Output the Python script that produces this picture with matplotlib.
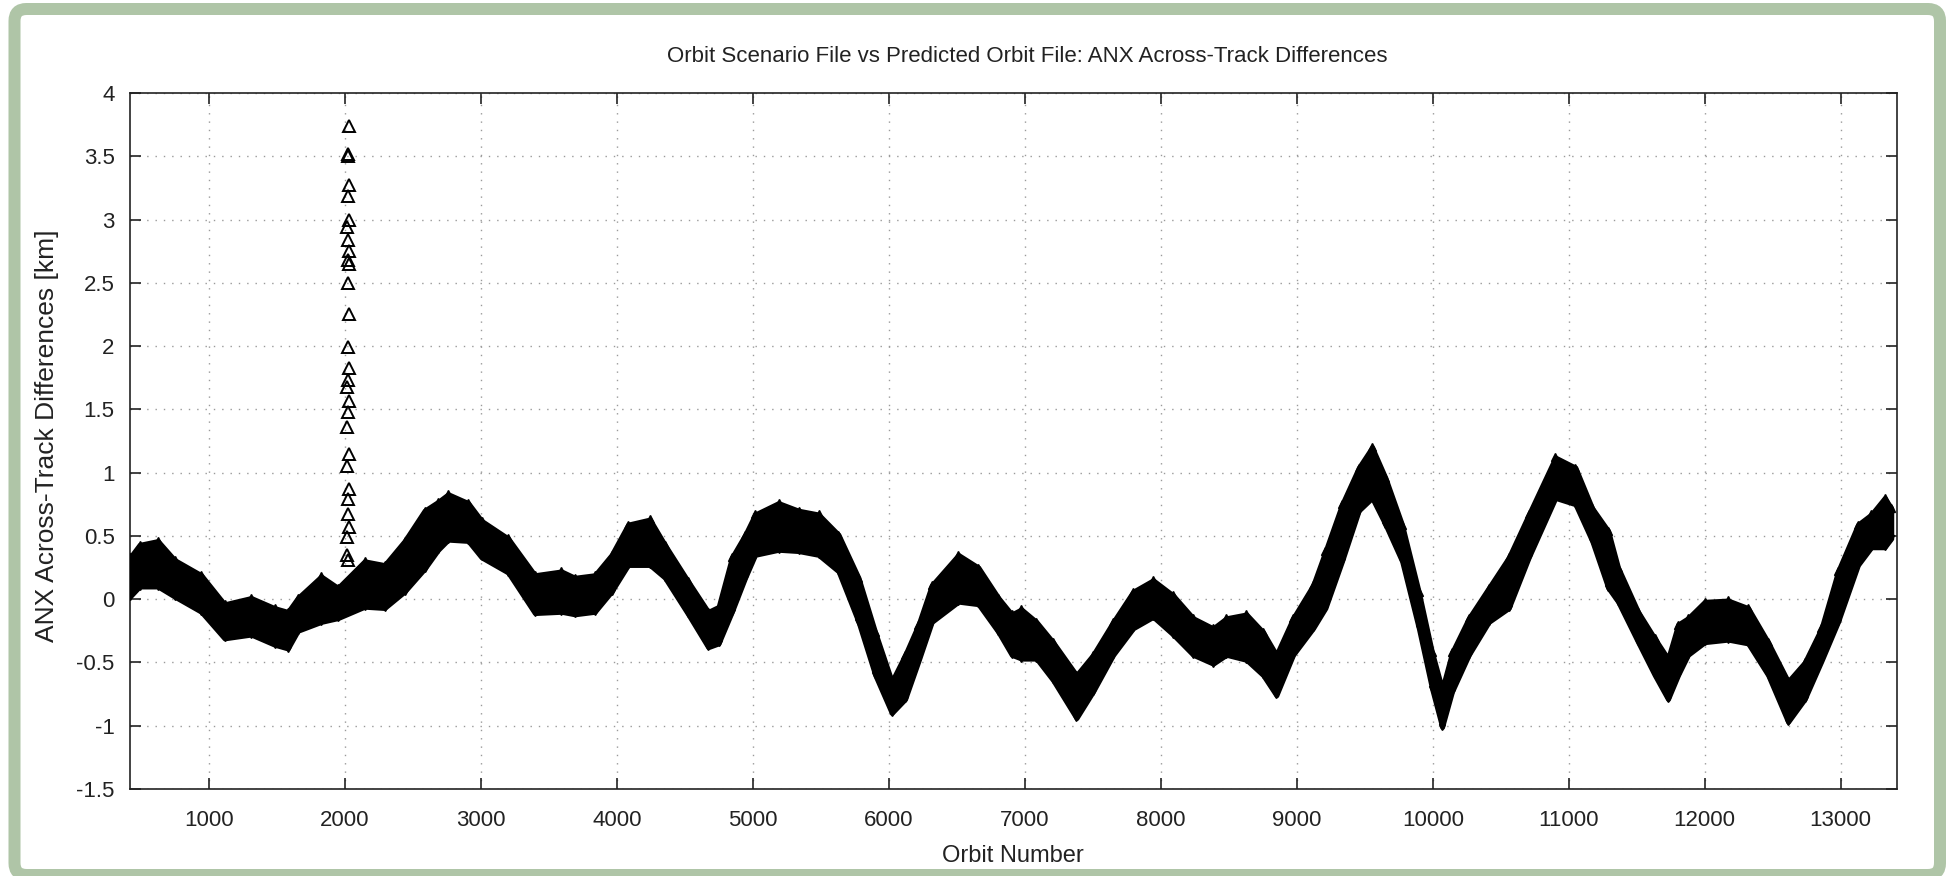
import matplotlib
matplotlib.use("Agg")
import matplotlib.pyplot as plt
from matplotlib.patches import FancyBboxPatch
from matplotlib.ticker import FuncFormatter, MultipleLocator
from matplotlib.transforms import IdentityTransform

plt.rcParams["font.family"] = ["Liberation Sans", "DejaVu Sans"]
plt.rcParams["axes.unicode_minus"] = False

# band of ANX across-track differences (km):
# upper / lower envelope of the dense cloud of markers per orbit number
orbit = [420, 490, 625, 748, 944, 1115, 1311, 1483, 1581, 1654, 1826, 1949,
         2145, 2292, 2439, 2586, 2686, 2760, 2907, 3005, 3201, 3397, 3593,
         3691, 3838, 3961, 4083, 4243, 4353, 4525, 4672, 4748, 4846, 4944,
         5017, 5189, 5336, 5483, 5630, 5777, 5900, 6022, 6120, 6218, 6316,
         6512, 6659, 6806, 6904, 6975, 7086, 7208, 7380, 7502, 7650, 7797,
         7944, 8091, 8238, 8385, 8483, 8630, 8752, 8850, 8973, 9120, 9211,
         9333, 9456, 9554, 9652, 9774, 9897, 9995, 10069, 10142, 10265,
         10412, 10559, 10706, 10902, 11049, 11172, 11290, 11363, 11510,
         11632, 11730, 11804, 11877, 12000, 12172, 12319, 12466, 12613,
         12735, 12858, 12980, 13127, 13225, 13323, 13372]
band_hi = [0.33, 0.43, 0.46, 0.31, 0.19, -0.04, 0.01, -0.07, -0.10, 0.01,
           0.18, 0.09, 0.30, 0.27, 0.46, 0.70, 0.77, 0.83, 0.76, 0.62, 0.48,
           0.19, 0.22, 0.17, 0.19, 0.35, 0.59, 0.63, 0.43, 0.14, -0.10, -0.06,
           0.33, 0.51, 0.67, 0.76, 0.70, 0.67, 0.51, 0.17, -0.26, -0.65,
           -0.44, -0.20, 0.11, 0.35, 0.25, 0.01, -0.12, -0.08, -0.18, -0.34,
           -0.60, -0.44, -0.18, 0.06, 0.15, 0.03, -0.15, -0.23, -0.15, -0.12,
           -0.26, -0.44, -0.15, 0.11, 0.38, 0.75, 1.04, 1.20, 0.96, 0.59,
           0.06, -0.42, -0.71, -0.42, -0.15, 0.09, 0.33, 0.67, 1.12, 1.04,
           0.72, 0.54, 0.25, -0.10, -0.31, -0.47, -0.20, -0.15, -0.02, -0.01,
           -0.07, -0.34, -0.65, -0.50, -0.23, 0.22, 0.59, 0.67, 0.80, 0.72]
band_lo = [0.02, 0.10, 0.10, 0.02, -0.10, -0.31, -0.28, -0.36, -0.39, -0.25,
           -0.18, -0.15, -0.06, -0.07, 0.06, 0.24, 0.39, 0.47, 0.46, 0.33,
           0.21, -0.11, -0.10, -0.12, -0.10, 0.06, 0.27, 0.27, 0.17, -0.12,
           -0.38, -0.35, -0.10, 0.17, 0.35, 0.39, 0.38, 0.35, 0.22, -0.18,
           -0.60, -0.90, -0.79, -0.49, -0.18, -0.02, -0.04, -0.26, -0.44,
           -0.47, -0.47, -0.64, -0.94, -0.73, -0.44, -0.23, -0.14, -0.28,
           -0.44, -0.51, -0.44, -0.48, -0.60, -0.76, -0.44, -0.23, -0.07,
           0.30, 0.70, 0.80, 0.59, 0.30, -0.23, -0.71, -1.01, -0.73, -0.44,
           -0.18, -0.07, 0.33, 0.80, 0.75, 0.46, 0.09, -0.02, -0.34, -0.60,
           -0.79, -0.60, -0.44, -0.34, -0.32, -0.35, -0.60, -0.97, -0.79,
           -0.49, -0.18, 0.27, 0.41, 0.41, 0.48]

# isolated points around orbit 2000
spike_orbit = [2030, 2025, 2020, 2028, 2022, 2030, 2018, 2026, 2032, 2024,
               2028, 2022, 2030, 2025, 2034, 2020, 2018, 2028, 2024, 2016,
               2030, 2018, 2034, 2020, 2026, 2030, 2016, 2018, 2026]
spike_val = [3.74, 3.52, 3.50, 3.27, 3.19, 3.00, 2.94, 2.84, 2.75, 2.68,
             2.65, 2.50, 2.25, 1.99, 1.83, 1.73, 1.68, 1.57, 1.48, 1.36,
             1.15, 1.05, 0.87, 0.79, 0.67, 0.57, 0.49, 0.35, 0.31]

xticks = list(range(1000, 14000, 1000))

fig = plt.figure(figsize=(19.49, 8.76), dpi=100)
ax = fig.add_axes([0.0667, 0.0993, 0.9067, 0.7945])

ax.fill_between(orbit, band_lo, band_hi, facecolor="black", edgecolor="black",
                linewidth=3.5, zorder=3)
ax.plot(orbit, band_hi, marker="^", linestyle="none", markersize=6, color="black", zorder=3)
ax.plot(orbit, band_lo, marker="v", linestyle="none", markersize=5, color="black", zorder=3)
ax.plot(spike_orbit, spike_val, marker="^", linestyle="none", markersize=9,
        markerfacecolor="none", markeredgecolor="black", markeredgewidth=1.4, zorder=4)

ax.set_xlim(420, 13415)
ax.set_ylim(-1.5, 4)
ax.set_xticks(xticks)
ax.yaxis.set_major_locator(MultipleLocator(0.5))
ax.yaxis.set_major_formatter(FuncFormatter(lambda v, p: "%g" % v))

ax.grid(True, color="#9a9a9a", linestyle=(0, (1, 5)), linewidth=1.0)
ax.set_axisbelow(True)
ax.tick_params(direction="in", length=8, width=1.2, top=True, right=True,
               labelsize=16, colors="#222222")
ax.tick_params(axis="x", pad=15)
ax.tick_params(axis="y", pad=11)
for s in ax.spines.values():
    s.set_linewidth(1.2)
    s.set_color("#222222")

fig.text(0.527, 0.935, "Orbit Scenario File vs Predicted Orbit File: ANX Across-Track Differences",
         ha="center", va="center", fontsize=16, color="#222222")
fig.text(0.5197, 0.0228, "Orbit Number", ha="center", va="center", fontsize=17, color="#222222")
fig.text(0.0241, 0.503, "ANX Across-Track Differences [km]", ha="center", va="center",
         rotation=90, fontsize=19, color="#222222")

# green frame around the picture
frame = FancyBboxPatch((14.5, 1), 1925.5, 866, boxstyle="round,pad=0,rounding_size=12",
                       transform=IdentityTransform(), facecolor="none",
                       edgecolor="#afc5a7", linewidth=8.64)
fig.patches.append(frame)

fig.savefig("out.png", dpi=100)
